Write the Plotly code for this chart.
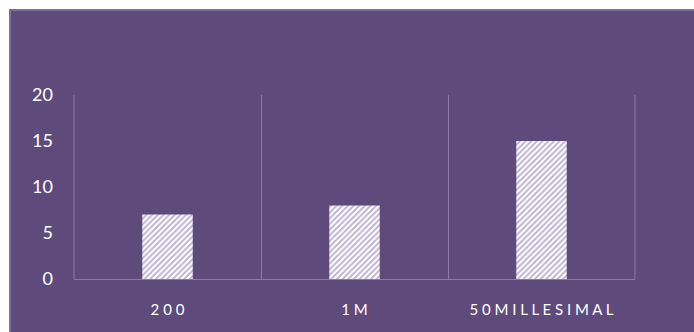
import plotly.graph_objects as go

categories = ["200", "1M", "50MILLESIMAL"]
values = [7, 8, 15]
y_ticks = [0, 5, 10, 15, 20]

def spaced(s):
    return " ".join(list(s))

BG = "#5F4B7B"
GRID = "#8B7BA6"
TXT = "#FFFFFF"

fig = go.Figure()
fig.add_trace(go.Bar(
    x=categories, y=values,
    marker=dict(color="white",
                line=dict(width=0),
                pattern=dict(shape="/", fgcolor="#7E6BA6", bgcolor="white",
                             size=4, solidity=0.5, fillmode="overlay")),
    width=0.27,
))

W, H = 694, 332
L, R, T, B = 74, 59, 95, 53
pw, ph = W - L - R, H - T - B
def px_x(p): return (p - L) / pw
def px_y(p): return (H - B - p) / ph

fig.add_shape(type="rect", xref="paper", yref="paper",
              x0=px_x(10), x1=px_x(720), y0=px_y(10), y1=px_y(360),
              fillcolor=BG, line=dict(color="#806DA0", width=2), layer="below")
for xe in (0, 1):
    fig.add_shape(type="line", xref="paper", yref="paper",
                  x0=xe, x1=xe, y0=0, y1=1,
                  line=dict(color=GRID, width=1), layer="below")

fig.update_layout(
    width=W, height=H,
    margin=dict(l=L, r=R, t=T, b=B),
    paper_bgcolor="white",
    plot_bgcolor="rgba(0,0,0,0)",
    font=dict(family="Lato, Open Sans, sans-serif", color=TXT),
    showlegend=False,
    bargap=0.73,
    xaxis=dict(
        type="category",
        tickmode="array", tickvals=categories,
        ticktext=[spaced(c) for c in categories],
        tickson="boundaries", ticks="",
        showgrid=True, gridcolor=GRID, gridwidth=1,
        showline=True, linecolor=GRID, linewidth=1,
        tickfont=dict(size=15, color=TXT),
        ticklabelstandoff=17,
        range=[-0.5, 2.5],
    ),
    yaxis=dict(
        range=[0, 20], tickvals=y_ticks,
        showgrid=False, zeroline=False, showline=False,
        tickfont=dict(size=18, color=TXT),
        ticklabelstandoff=20,
    ),
)

fig.write_html("out.html")
